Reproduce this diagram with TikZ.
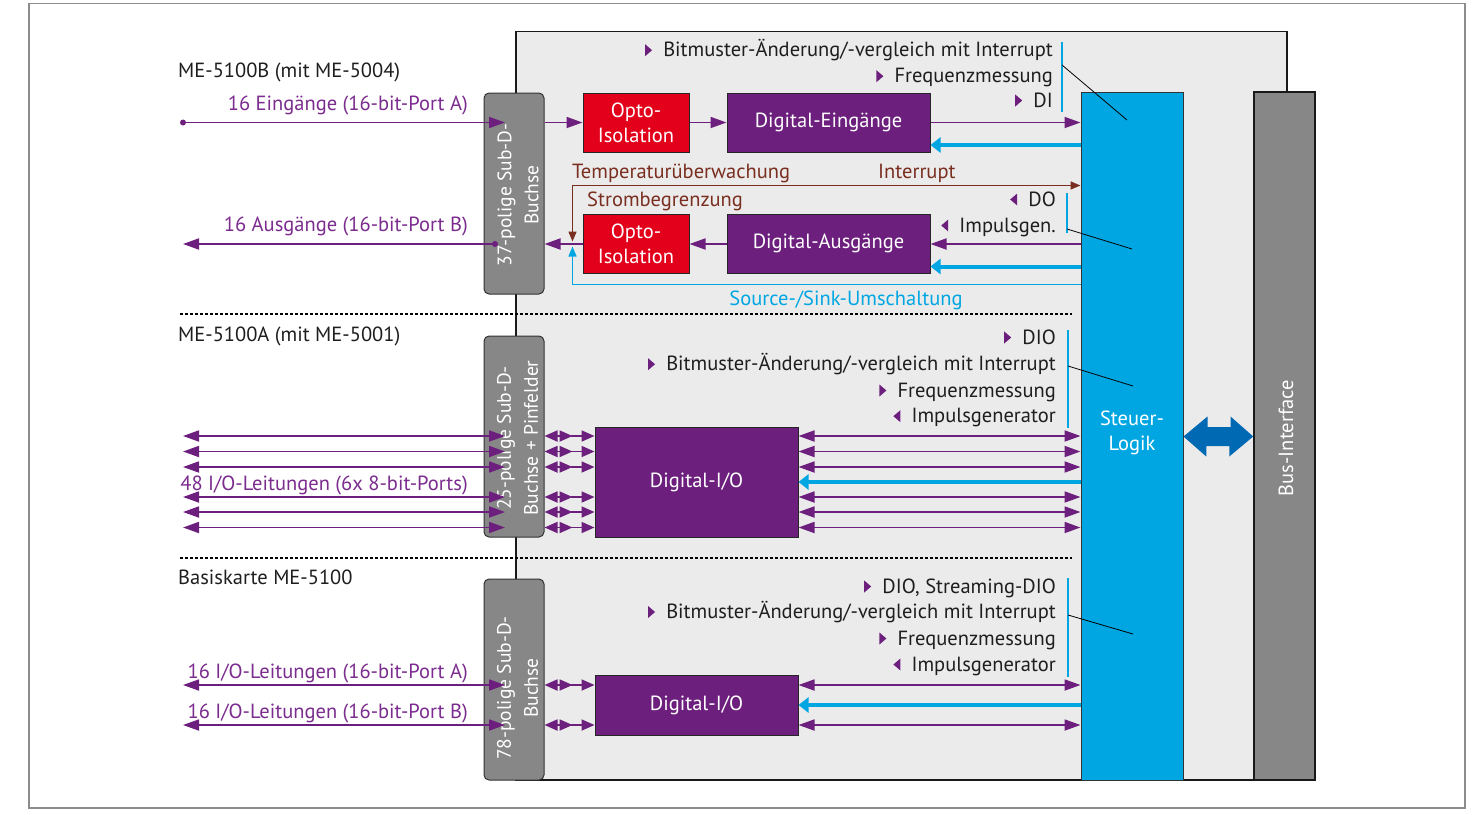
\documentclass[tikz,border=0pt]{standalone}
\usepackage{fontspec}
\setmainfont{PT Sans}
\usetikzlibrary{arrows.meta,calc}
\definecolor{vio}{HTML}{6C1F7D}
\definecolor{vtext}{HTML}{7B2C8E}
\definecolor{optored}{HTML}{E2001A}
\definecolor{sky}{HTML}{00A6E2}
\definecolor{navy}{HTML}{0069B4}
\definecolor{panelc}{HTML}{EBEBEB}
\definecolor{connc}{HTML}{878787}
\definecolor{rust}{HTML}{7A2E1F}
\definecolor{txt}{HTML}{1E1E1E}
\begin{document}
\begin{tikzpicture}[x=1pt,y=-1pt,
  font=\fontsize{20.5}{25}\selectfont,
  box/.style={draw=black!85, line width=1pt, inner sep=0pt, text=white, align=center},
  opto/.style={box, fill=optored, minimum width=106pt, minimum height=59pt},
  dig/.style={box, fill=vio, minimum width=203pt},
  conn/.style={draw=black!80, line width=1pt, fill=connc, rounded corners=5pt, minimum width=60pt, minimum height=201pt, inner sep=0pt},
  ctext/.style={rotate=90, text=white, align=center, inner sep=0pt, font=\fontsize{19.5}{27}\selectfont},
  pa/.style={draw=vio, line width=1.8pt, -{Triangle[length=16pt,width=11pt]}},
  pd/.style={draw=vio, line width=1.8pt, {Triangle[length=16pt,width=11pt]}-{Triangle[length=16pt,width=11pt]}},
  ps/.style={draw=vio, line width=1.8pt, {Triangle[length=13pt,width=11pt]}-{Triangle[length=13pt,width=11pt]}},
  pr/.style={draw=vio, line width=1.8pt, -{Triangle[length=13pt,width=11pt]}},
  bl/.style={draw=sky, line width=4pt, -{Triangle[length=10pt,width=15pt]}},
  brl/.style={draw=rust, line width=1.5pt, {Triangle[length=10pt,width=8pt]}-{Triangle[length=10pt,width=8pt]}},
  sl/.style={draw=sky, line width=1.5pt, -{Triangle[length=10pt,width=8pt]}},
  lbl/.style={inner sep=0pt, text=txt},
  plbl/.style={inner sep=0pt, text=vtext},
  rlbl/.style={inner sep=0pt, text=rust},
  slbl/.style={inner sep=0pt, text=sky},
  marker/.style={draw=sky, line width=1.5pt},
  pointer/.style={draw=black, line width=0.8pt},
  sep/.style={draw=black, line width=1.3pt, dash pattern=on 3pt off 2pt}
]
\useasboundingbox (0,0) rectangle (1477,814);
% frame and panel
\draw[draw=black!45, line width=1.3pt] (29,3.5) rectangle (1465,808);
\draw[fill=panelc, draw=black!90, line width=1.5pt] (516,31.5) rectangle (1287,780);
% separators
\coordinate (sepA1) at (180,314); \coordinate (sepA2) at (1072,314);
\coordinate (sepB1) at (180,558); \coordinate (sepB2) at (1072,558);
\draw[sep] (sepA1) -- (sepA2);
\draw[sep] (sepB1) -- (sepB2);
% main blocks
\node[draw=black!80, line width=1pt, fill=sky, minimum width=102pt, minimum height=688pt, inner sep=0pt] (S) at (1132,436) {};
\node[draw=black!90, line width=1.5pt, fill=connc, minimum width=61pt, minimum height=688pt, inner sep=0pt] (B) at (1284.5,436) {};
\node[text=white, align=center, inner sep=0pt] (St) at (1132,433) {Steuer-\\Logik};
\node[text=white, rotate=90, inner sep=0pt] (Bt) at (1286,438) {Bus-Interface};
% connectors
\node[conn] (C1) at (514,193.5) {};
\node[conn] (C2) at (514,436.5) {};
\node[conn] (C3) at (514,679.5) {};
\node[ctext] (C1t) at (518,195) {37-polige Sub-D-\\Buchse};
\node[ctext] (C2t) at (517.5,438) {25-polige Sub-D-\\Buchse + Pinfelder};
\node[ctext] (C3t) at (517.5,688) {78-polige Sub-D-\\Buchse};
% function blocks
\node[opto] (O1) at (636,122.5) {Opto-\\Isolation};
\node[dig, minimum height=59pt] (DE) at (828.5,122.5) {Digital-Eingänge};
\node[opto] (O2) at (636,243.5) {Opto-\\Isolation};
\node[dig, minimum height=59pt] (DA) at (828.5,243.5) {Digital-Ausgänge};
\node[dig, minimum height=110pt] (D1) at (696.5,482) {Digital-I/O};
\node[dig, minimum height=60pt] (D2) at (696.5,705) {Digital-I/O};
% levels
\foreach \n/\y in {in/122.5, bA/145, br/185.5, out/244, bB/266.5, src/284.5,
  m1/436, m2/451.5, m3/467, mb/482, m4/497, m5/512, m6/527.5,
  d1/685, db/705, d2/725, big/436.5}
  \coordinate (y\n) at (0,\y);
% ---------- top section connectors
\coordinate (inDot) at (183,122.5);
\fill[vio] (inDot) circle (3pt);
\draw[pa] (inDot) -- ($(C1.center|-yin)+(-9,0)$);
\draw[pa] (C1.east|-yin) -- (O1.west|-yin);
\draw[pa] (O1.east|-yin) -- (DE.west|-yin);
\draw[pa] (DE.east|-yin) -- (S.west|-yin);
\draw[bl] (S.west|-ybA) -- (DE.east|-ybA);
\draw[pa] (S.west|-yout) -- (DA.east|-yout);
\draw[pa] (DA.west|-yout) -- (O2.east|-yout);
\draw[pa] (O2.west|-yout) -- (C1.east|-yout);
\coordinate (outDot) at (495,244);
\coordinate (outEnd) at (183,244);
\fill[vio] (outDot) circle (3pt);
\draw[pa] (outDot) -- (outEnd);
\draw[bl] (S.west|-ybB) -- (DA.east|-ybB);
\coordinate (brTip) at (572.5,241.5);
\draw[brl] (brTip) |- (S.west|-ybr);
\coordinate (srcTip) at (572.5,246.5);
\draw[sl] (S.west|-ysrc) -| (srcTip);
% ---------- middle section
\foreach \k in {m1,m2,m3,m4,m5,m6}{
  \coordinate (lft\k) at (183,0);
  \draw[pd] (lft\k|-y\k) -- ($(C2.center|-y\k)+(-9,0)$);
  \draw[ps] (C2.east|-y\k) -- ($(C2.east|-y\k)+(28,0)$);
  \draw[pr] ($(C2.east|-y\k)+(26,0)$) -- (D1.west|-y\k);
  \draw[pd] (D1.east|-y\k) -- (S.west|-y\k);
}
\draw[bl] (S.west|-ymb) -- (D1.east|-ymb);
% ---------- bottom section
\foreach \k in {d1,d2}{
  \coordinate (lft\k) at (183,0);
  \draw[pd] (lft\k|-y\k) -- ($(C3.center|-y\k)+(-9,0)$);
  \draw[ps] (C3.east|-y\k) -- ($(C3.east|-y\k)+(28,0)$);
  \draw[pr] ($(C3.east|-y\k)+(26,0)$) -- (D2.west|-y\k);
  \draw[pd] (D2.east|-y\k) -- (S.west|-y\k);
}
\draw[bl] (S.west|-ydb) -- (D2.east|-ydb);
% big bus arrow
\fill[navy] (S.east|-ybig) -- ++(24,-20) -- ++(0,10.5) -- ++(23,0) -- ++(0,-10.5) -- (B.west|-ybig)
  -- ++(-24,20) -- ++(0,-10.5) -- ++(-23,0) -- ++(0,10.5) -- cycle;
% ---------- left labels
\node[lbl, anchor=base west] (h1) at (178,77.5) {ME-5100B (mit ME-5004)};
\node[plbl, anchor=base east] (p1) at (468,110) {16 Eingänge (16-bit-Port A)};
\node[plbl, anchor=base east] (p2) at (468,231) {16 Ausgänge (16-bit-Port B)};
\node[lbl, anchor=base west] (h2) at (178,341.5) {ME-5100A (mit ME-5001)};
\node[plbl, anchor=base east] (p3) at (468,490) {48 I/O-Leitungen (6x 8-bit-Ports)};
\node[lbl, anchor=base west] (h3) at (178,584) {Basiskarte ME-5100};
\node[plbl, anchor=base east] (p4) at (468,678) {16 I/O-Leitungen (16-bit-Port A)};
\node[plbl, anchor=base east] (p5) at (468,718) {16 I/O-Leitungen (16-bit-Port B)};
% top inner labels
\node[rlbl, anchor=base west] (t1) at (572,178) {Temperaturüberwachung};
\node[rlbl, anchor=base west] (t2) at (587,206) {Strombegrenzung};
\node[rlbl, anchor=base west] (t3) at (878,178) {Interrupt};
\node[slbl, anchor=base] (t4) at (846,305) {Source-/Sink-Umschaltung};
% feature lists
\newcommand\rmk[1]{\fill[vio] ($(#1.base west)+(-18,-12.5)$) -- ++(7,6) -- ++(-7,6) -- cycle;}
\newcommand\lmk[1]{\fill[vio] ($(#1.base west)+(-11,-12.5)$) -- ++(-7,6) -- ++(7,6) -- cycle;}
\node[lbl, anchor=base east] (f1) at (1053,56.7) {Bitmuster-Änderung/-vergleich mit Interrupt}; \rmk{f1}
\node[lbl, anchor=base east] (f2) at (1053,82.7) {Frequenzmessung}; \rmk{f2}
\node[lbl, anchor=base east] (f3) at (1053,107) {DI}; \rmk{f3}
\node[lbl, anchor=base east] (f4) at (1056,206) {DO}; \lmk{f4}
\node[lbl, anchor=base east] (f5) at (1056,232) {Impulsgen.}; \lmk{f5}
\node[lbl, anchor=base east] (g1) at (1056,344) {DIO}; \rmk{g1}
\node[lbl, anchor=base east] (g2) at (1056,370.7) {Bitmuster-Änderung/-vergleich mit Interrupt}; \rmk{g2}
\node[lbl, anchor=base east] (g3) at (1056,397) {Frequenzmessung}; \rmk{g3}
\node[lbl, anchor=base east] (g4) at (1056,422.7) {Impulsgenerator}; \lmk{g4}
\node[lbl, anchor=base east] (k1) at (1056,593) {DIO, Streaming-DIO}; \rmk{k1}
\node[lbl, anchor=base east] (k2) at (1056,618.5) {Bitmuster-Änderung/-vergleich mit Interrupt}; \rmk{k2}
\node[lbl, anchor=base east] (k3) at (1056,645) {Frequenzmessung}; \rmk{k3}
\node[lbl, anchor=base east] (k4) at (1056,671) {Impulsgenerator}; \lmk{k4}
% markers and pointers
\coordinate (mA1) at (1062,42); \coordinate (mA2) at (1062,112);
\coordinate (mB1) at (1067,193); \coordinate (mB2) at (1067,233);
\coordinate (mC1) at (1068,330); \coordinate (mC2) at (1068,428);
\coordinate (mD1) at (1068,578); \coordinate (mD2) at (1068,677);
\draw[marker] (mA1) -- (mA2);
\draw[marker] (mB1) -- (mB2);
\draw[marker] (mC1) -- (mC2);
\draw[marker] (mD1) -- (mD2);
\coordinate (qA1) at (1062,65); \coordinate (qA2) at (1127,120);
\coordinate (qB1) at (1067,229); \coordinate (qB2) at (1132,249);
\coordinate (qC1) at (1068,366); \coordinate (qC2) at (1133,386);
\coordinate (qD1) at (1068,615); \coordinate (qD2) at (1133,634);
\draw[pointer] (qA1) -- (qA2);
\draw[pointer] (qB1) -- (qB2);
\draw[pointer] (qC1) -- (qC2);
\draw[pointer] (qD1) -- (qD2);
\end{tikzpicture}
\end{document}
